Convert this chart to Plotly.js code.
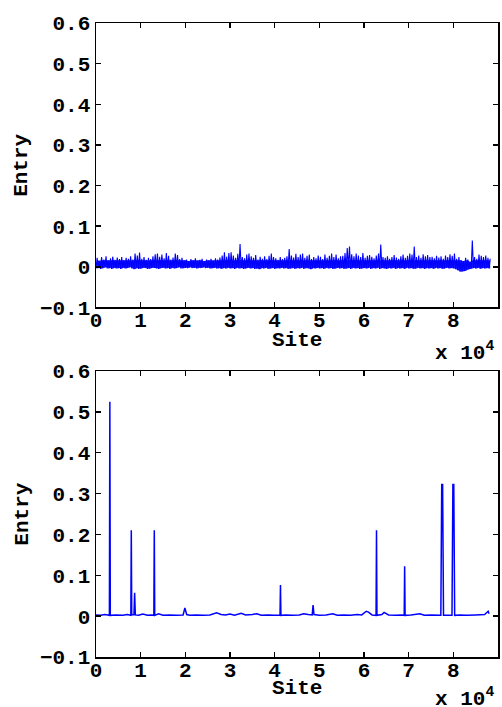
<!DOCTYPE html>
<html>
<head>
<meta charset="utf-8">
<script src="https://cdn.plot.ly/plotly-3.0.1.min.js"></script>
<style>html,body{margin:0;padding:0;background:#fff;}#chart{width:502px;height:707px;}</style>
</head>
<body>
<div id="chart"></div>
<script>
// ---- Data ----
// Top panel: dense noisy entries, summarised per 500-site bin (low and high envelope)
const topBinSize = 500;
const topHigh = [
0.022,0.015,0.024,0.018,0.026,0.016,0.021,0.025,0.017,0.023,
0.019,0.024,0.016,0.022,0.020,0.026,0.018,0.033,0.028,0.035,
0.020,0.024,0.017,0.022,0.019,0.026,0.031,0.033,0.025,0.030,
0.021,0.034,0.027,0.018,0.023,0.033,0.029,0.019,0.022,0.016,
0.018,0.014,0.019,0.016,0.021,0.015,0.017,0.020,0.014,0.018,
0.016,0.020,0.015,0.021,0.018,0.023,0.028,0.036,0.025,0.034,
0.036,0.028,0.022,0.032,0.056,0.024,0.021,0.030,0.033,0.026,
0.022,0.029,0.018,0.025,0.020,0.026,0.019,0.027,0.033,0.024,
0.021,0.017,0.024,0.019,0.022,0.026,0.044,0.028,0.023,0.032,
0.024,0.030,0.033,0.022,0.027,0.030,0.019,0.024,0.021,0.028,
0.025,0.019,0.030,0.022,0.027,0.033,0.024,0.030,0.021,0.026,
0.027,0.034,0.046,0.050,0.031,0.026,0.033,0.028,0.024,0.034,
0.022,0.027,0.029,0.025,0.021,0.028,0.033,0.055,0.024,0.022,
0.026,0.020,0.024,0.029,0.023,0.020,0.026,0.030,0.022,0.027,
0.033,0.030,0.050,0.024,0.028,0.022,0.031,0.026,0.029,0.024,
0.025,0.021,0.027,0.023,0.026,0.020,0.028,0.024,0.031,0.027,
0.033,0.020,0.024,0.016,0.014,0.022,0.018,0.012,0.065,0.024,
0.020,0.030,0.027,0.024,0.028,0.022,0.020
];
const topLow = [
-0.004,-0.002,-0.005,-0.003,-0.001,-0.004,-0.003,-0.005,-0.002,-0.004,
-0.003,-0.005,-0.002,-0.004,-0.003,-0.001,-0.004,-0.006,-0.003,-0.005,
-0.004,-0.002,-0.003,-0.005,-0.004,-0.002,-0.003,-0.004,-0.005,-0.003,
-0.002,-0.004,-0.003,-0.005,-0.002,-0.004,-0.003,-0.001,-0.004,-0.003,
-0.002,-0.003,-0.001,-0.003,-0.002,-0.004,-0.002,-0.003,-0.001,-0.003,
-0.002,-0.004,-0.003,-0.002,-0.004,-0.003,-0.005,-0.003,-0.004,-0.002,
-0.004,-0.003,-0.005,-0.002,-0.004,-0.003,-0.005,-0.004,-0.002,-0.004,
-0.003,-0.005,-0.004,-0.006,-0.003,-0.004,-0.002,-0.005,-0.004,-0.003,
-0.005,-0.003,-0.004,-0.002,-0.004,-0.003,-0.005,-0.004,-0.003,-0.005,
-0.003,-0.004,-0.002,-0.005,-0.003,-0.004,-0.006,-0.003,-0.004,-0.002,
-0.004,-0.003,-0.005,-0.002,-0.004,-0.003,-0.005,-0.004,-0.002,-0.004,
-0.003,-0.005,-0.004,-0.003,-0.005,-0.002,-0.004,-0.003,-0.005,-0.004,
-0.003,-0.004,-0.002,-0.005,-0.003,-0.004,-0.002,-0.005,-0.003,-0.004,
-0.005,-0.003,-0.004,-0.002,-0.005,-0.003,-0.004,-0.003,-0.005,-0.002,
-0.004,-0.003,-0.005,-0.004,-0.002,-0.004,-0.003,-0.005,-0.003,-0.004,
-0.003,-0.005,-0.002,-0.004,-0.003,-0.005,-0.004,-0.002,-0.004,-0.003,
-0.004,-0.006,-0.009,-0.012,-0.011,-0.010,-0.007,-0.005,-0.004,-0.003,
-0.004,-0.002,-0.005,-0.003,-0.004,-0.003,-0.004
];

// Bottom panel: sparse entries (site, value)
const bottomSites = [
0,1000,2000,3000,3100,3200,4500,6000,7000,7800,7900,8000,8500,8650,8800,9500,10500,11500,12500,
12950,13050,13150,14000,15000,16500,18000,19500,19900,20300,21000,22500,24000,25500,27000,28000,
29000,30000,31000,32500,33500,35000,36000,37000,38500,40000,41200,41300,41400,42500,44000,45500,
46500,47500,48400,48600,48800,50000,51500,53000,54000,55500,57000,58500,59500,60500,61000,61800,
62700,62800,62900,64000,64500,65500,67000,68500,69000,69100,69200,70500,72500,73500,75000,77200,
77400,77600,77800,79700,79900,80100,80300,81500,83000,85000,87000,87800,88000
];
const bottomValues = [
0.003,0.002,0.004,0.002,0.525,0.002,0.003,0.002,0.004,0.002,0.210,0.003,0.004,0.057,0.003,0.002,0.005,0.002,0.003,
0.002,0.210,0.002,0.006,0.002,0.003,0.002,0.003,0.020,0.004,0.002,0.003,0.002,0.003,0.008,0.004,
0.003,0.005,0.002,0.007,0.003,0.004,0.006,0.002,0.003,0.002,0.002,0.076,0.002,0.003,0.002,0.003,
0.006,0.004,0.003,0.027,0.004,0.002,0.003,0.006,0.002,0.003,0.002,0.004,0.003,0.012,0.010,0.003,
0.002,0.210,0.002,0.004,0.009,0.003,0.002,0.003,0.002,0.122,0.002,0.003,0.006,0.002,0.003,0.002,
0.322,0.322,0.002,0.002,0.322,0.322,0.002,0.003,0.002,0.003,0.004,0.012,0.006
];

const xTickVals = [0,10000,20000,30000,40000,50000,60000,70000,80000,90000];
const xTickText = ['0','1','2','3','4','5','6','7','8','9'];

// ---- Build top traces from bins ----
const topX = [], topY = [];
const binX = [];
for (let i = 0; i < topHigh.length; i++) {
  topX.push(i * topBinSize); topY.push(topLow[i]);
  topX.push(i * topBinSize + topBinSize / 2); topY.push(topHigh[i]);
  binX.push(i * topBinSize + topBinSize / 2);
}
// body of the band: from low envelope up to a fraction of the high envelope
const bodyTop = topHigh.map(v => Math.min(v, 0.016));

const FONT = 'Liberation Mono, Courier New, monospace';
const tickFont = {family: FONT, size: 21, color: '#000', weight: 'bold'};

function xAxis(anchor) {
  return {
    anchor: anchor, range: [0, 90000], tickvals: xTickVals, ticktext: xTickText,
    ticks: 'inside', ticklen: 5, tickwidth: 1.5, tickcolor: '#000',
    showline: true, linecolor: '#000', linewidth: 1.5, mirror: 'ticks',
    showgrid: false, zeroline: false, tickfont: tickFont, ticklabelstandoff: -7
  };
}
function yAxis(anchor, domain) {
  return {
    anchor: anchor, domain: domain, range: [-0.1, 0.6], dtick: 0.1, tick0: 0,
    ticks: 'inside', ticklen: 5, tickwidth: 1.5, tickcolor: '#000',
    showline: true, linecolor: '#000', linewidth: 1.5, mirror: 'ticks',
    showgrid: false, zeroline: false, tickfont: tickFont
  };
}

const data = [
  {x: binX, y: topLow, type: 'scatter', mode: 'lines', xaxis: 'x', yaxis: 'y',
   line: {color: 'rgba(0,0,255,0)', width: 0}, hoverinfo: 'skip'},
  {x: binX, y: bodyTop, type: 'scatter', mode: 'lines', xaxis: 'x', yaxis: 'y',
   fill: 'tonexty', fillcolor: 'rgba(0,0,255,0.9)',
   line: {color: 'rgba(0,0,255,0)', width: 0}, hoverinfo: 'skip'},
  {x: topX, y: topY, type: 'scatter', mode: 'lines', xaxis: 'x', yaxis: 'y',
   line: {color: '#0000ff', width: 1.1}, hoverinfo: 'skip'},
  {x: bottomSites, y: bottomValues, type: 'scatter', mode: 'lines', xaxis: 'x2', yaxis: 'y2',
   line: {color: '#0000ff', width: 1.5}, hoverinfo: 'skip'}
];

const titleFont = {family: FONT, size: 21, color: '#000', weight: 'bold'};
const layout = {
  width: 502, height: 707,
  margin: {l: 96, r: 4, t: 23, b: 50},
  paper_bgcolor: '#fff', plot_bgcolor: '#fff',
  showlegend: false,
  xaxis: xAxis('y'),
  yaxis: yAxis('x', [0.5513, 1]),
  xaxis2: xAxis('y2'),
  yaxis2: yAxis('x2', [0, 0.4511]),
  annotations: [
    {text: 'Entry', xref: 'paper', yref: 'y domain', x: -0.185, y: 0.5, textangle: -90,
     showarrow: false, xanchor: 'center', yanchor: 'middle', font: titleFont},
    {text: 'Entry', xref: 'paper', yref: 'y2 domain', x: -0.185, y: 0.5, textangle: -90,
     showarrow: false, xanchor: 'center', yanchor: 'middle', font: titleFont},
    {text: 'Site', xref: 'x domain', yref: 'y domain', x: 0.5, y: 0, yshift: -33,
     showarrow: false, xanchor: 'center', yanchor: 'middle', font: titleFont},
    {text: 'Site', xref: 'x2 domain', yref: 'y2 domain', x: 0.5, y: 0, yshift: -31,
     showarrow: false, xanchor: 'center', yanchor: 'middle', font: titleFont},
    {text: 'x 10<sup>4</sup>', xref: 'x domain', yref: 'y domain', x: 0.995, y: 0, yshift: -44,
     showarrow: false, xanchor: 'right', yanchor: 'middle', font: titleFont},
    {text: 'x 10<sup>4</sup>', xref: 'x2 domain', yref: 'y2 domain', x: 0.995, y: 0, yshift: -40,
     showarrow: false, xanchor: 'right', yanchor: 'middle', font: titleFont}
  ]
};

Plotly.newPlot('chart', data, layout, {staticPlot: true, displayModeBar: false});
</script>
</body>
</html>
